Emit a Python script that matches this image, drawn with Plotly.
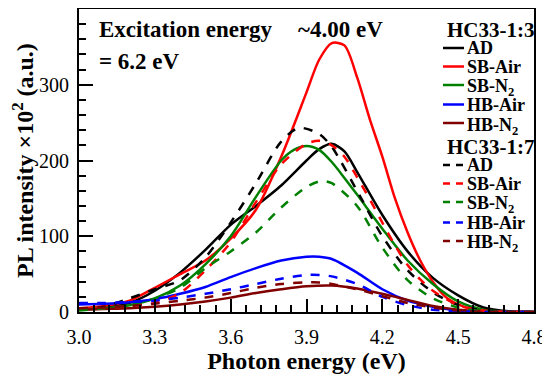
import plotly.graph_objects as go

# Photon energy grids (eV) and PL intensities (x10^2 a.u.)
E_ad13 = [3.0, 3.1, 3.2, 3.3, 3.4, 3.5, 3.6, 3.7, 3.8, 3.9, 3.95, 4.0, 4.05, 4.1, 4.2, 4.3, 4.4, 4.5, 4.6, 4.7, 4.8]
I_ad13 = [3, 6, 12, 28, 52, 82, 115, 140, 167, 200, 215, 222, 212, 185, 128, 80, 45, 22, 6, 1, 0]

E_sbair13 = [3.0, 3.1, 3.2, 3.3, 3.4, 3.5, 3.6, 3.7, 3.8, 3.9, 3.95, 4.0, 4.05, 4.1, 4.15, 4.2, 4.25, 4.3, 4.35, 4.4, 4.45, 4.5, 4.55, 4.6, 4.7, 4.8]
I_sbair13 = [5, 8, 15, 32, 50, 68, 97, 135, 205, 290, 333, 355, 352, 310, 255, 205, 150, 105, 68, 40, 20, 10, 4, 1, 0, 0]

E_sbn13 = [3.0, 3.1, 3.2, 3.3, 3.4, 3.5, 3.6, 3.7, 3.8, 3.85, 3.9, 3.95, 4.0, 4.05, 4.1, 4.2, 4.3, 4.4, 4.5, 4.6, 4.7, 4.8]
I_sbn13 = [3, 5, 9, 18, 35, 63, 100, 152, 200, 214, 219, 214, 198, 177, 155, 110, 68, 37, 14, 3, 0, 0]

E_hbair13 = [3.0, 3.1, 3.2, 3.3, 3.4, 3.5, 3.6, 3.7, 3.8, 3.9, 3.95, 4.0, 4.1, 4.2, 4.3, 4.4, 4.5, 4.6, 4.7, 4.8]
I_hbair13 = [10, 11, 13, 17, 24, 33, 46, 58, 68, 73, 73, 70, 52, 30, 15, 7, 2, 0, 0, 0]

E_hbn13 = [3.0, 3.1, 3.2, 3.3, 3.4, 3.5, 3.6, 3.7, 3.8, 3.9, 4.0, 4.1, 4.2, 4.3, 4.4, 4.5, 4.6, 4.7, 4.8]
I_hbn13 = [3, 4, 5, 7, 10, 14, 19, 25, 30, 34, 35, 31, 24, 16, 8, 3, 1, 0, 0]

E_ad17 = [3.0, 3.1, 3.2, 3.3, 3.4, 3.5, 3.6, 3.7, 3.8, 3.87, 3.95, 4.0, 4.1, 4.2, 4.3, 4.4, 4.5, 4.6, 4.7, 4.8]
I_ad17 = [3, 7, 18, 30, 42, 72, 118, 170, 225, 243, 235, 218, 160, 100, 55, 26, 9, 2, 0, 0]

E_sbair17 = [3.0, 3.1, 3.2, 3.3, 3.4, 3.5, 3.6, 3.7, 3.8, 3.9, 3.95, 4.0, 4.05, 4.1, 4.15, 4.2, 4.25, 4.3, 4.35, 4.4, 4.5, 4.6, 4.7, 4.8]
I_sbair17 = [3, 5, 8, 12, 25, 55, 92, 145, 195, 222, 226, 220, 205, 178, 149, 118, 88, 62, 43, 28, 9, 2, 0, 0]

E_sbn17 = [3.0, 3.1, 3.2, 3.3, 3.4, 3.5, 3.6, 3.7, 3.8, 3.9, 3.96, 4.0, 4.1, 4.2, 4.3, 4.4, 4.5, 4.6, 4.7, 4.8]
I_sbn17 = [2, 5, 9, 18, 32, 58, 80, 105, 138, 165, 173, 170, 140, 85, 42, 18, 6, 1, 0, 0]

E_hbair17 = [3.0, 3.1, 3.2, 3.3, 3.4, 3.5, 3.6, 3.7, 3.8, 3.9, 3.95, 4.0, 4.1, 4.2, 4.3, 4.4, 4.5, 4.6, 4.7, 4.8]
I_hbair17 = [12, 12, 13, 15, 19, 24, 30, 37, 44, 49, 49, 47, 37, 20, 9, 3, 1, 0, 0, 0]

E_hbn17 = [3.0, 3.1, 3.2, 3.3, 3.4, 3.5, 3.6, 3.7, 3.8, 3.9, 3.95, 4.0, 4.1, 4.2, 4.3, 4.4, 4.5, 4.6, 4.7, 4.8]
I_hbn17 = [5, 6, 8, 11, 15, 19, 25, 32, 37, 39, 39, 37, 30, 21, 12, 6, 2, 0, 0, 0]

names = ["AD", "SB-Air", "SB-N<sub>2</sub>", "HB-Air", "HB-N<sub>2</sub>"]
colors = ["#000000", "#ff0000", "#008000", "#0000ff", "#800000"]
group_titles = ["HC33-1:3", "HC33-1:7"]
group13 = [(E_ad13, I_ad13), (E_sbair13, I_sbair13), (E_sbn13, I_sbn13), (E_hbair13, I_hbair13), (E_hbn13, I_hbn13)]
group17 = [(E_ad17, I_ad17), (E_sbair17, I_sbair17), (E_sbn17, I_sbn17), (E_hbair17, I_hbair17), (E_hbn17, I_hbn17)]

FONT = "Liberation Serif, Times New Roman, Times, serif"
W, H = 542, 370
ML, MR, MT, MB = 71, 16, 1, 66
PW, PH = W - ML - MR, H - MT - MB


def px(fx):
    return (fx - ML) / PW


def py(fy):
    return 1 - (fy - MT) / PH


fig = go.Figure()

groups = [(group13, "solid", group_titles[0]), (group17, "dash", group_titles[1])]
for gi, (grp, dash, gt) in enumerate(groups):
    for (x, y), nm, c in zip(grp, names, colors):
        fig.add_trace(go.Scatter(
            x=x, y=y, mode="lines", name=gt + " " + nm, showlegend=False,
            line=dict(color=c, width=2.5, dash=dash, shape="spline", smoothing=0.8)))

# Manual legend (text + key lines) laid out like the reference
header_y = [22, 139]
item_y = [[40, 58.5, 77, 96.5, 115], [157, 175.5, 194, 214.5, 233]]
for gi, (grp, dash, gt) in enumerate(groups):
    fig.add_annotation(x=px(437), y=py(header_y[gi]), xref="paper", yref="paper",
                       xanchor="left", yanchor="middle", showarrow=False,
                       text="<b>" + gt + "</b>", font=dict(family=FONT, size=21, color="black"))
    for k, (nm, c) in enumerate(zip(names, colors)):
        yy = item_y[gi][k]
        fig.add_shape(type="line", xref="paper", yref="paper",
                      x0=px(435), x1=px(456), y0=py(yy), y1=py(yy),
                      line=dict(color=c, width=2.5, dash="7px,6px" if dash == "dash" else "solid"))
        sub = "<sub>" in nm
        fig.add_annotation(x=px(457), y=py(yy + (3 if sub else 0)), xref="paper", yref="paper",
                           xanchor="left", yanchor="middle", showarrow=False,
                           text="<b>" + nm + "</b>", font=dict(family=FONT, size=18, color="black"))

fig.add_annotation(x=0.04, y=0.931, xref="paper", yref="paper", xanchor="left", yanchor="middle",
                   text="<b>Excitation energy</b>", showarrow=False,
                   font=dict(family=FONT, size=23, color="black"))
fig.add_annotation(x=0.04, y=0.828, xref="paper", yref="paper", xanchor="left", yanchor="middle",
                   text="<b>= 6.2 eV</b>", showarrow=False,
                   font=dict(family=FONT, size=23, color="black"))
fig.add_annotation(x=4.036, y=0.931, xref="x", yref="paper", xanchor="center", yanchor="middle",
                   text="<b>~4.00 eV</b>", showarrow=False,
                   font=dict(family=FONT, size=23, color="black"))

fig.update_layout(
    width=W, height=H,
    margin=dict(l=ML, r=MR, t=MT, b=MB, autoexpand=False),
    paper_bgcolor="white", plot_bgcolor="white",
    font=dict(family=FONT, color="black"),
    showlegend=False,
    xaxis=dict(range=[3.0, 4.8], tick0=3.0, dtick=0.3, tickformat=".1f",
               ticks="inside", ticklen=13, tickwidth=2, tickcolor="black",
               showline=True, linewidth=2, linecolor="black", mirror=True,
               showgrid=False, zeroline=False, ticklabelstandoff=6,
               tickfont=dict(family=FONT, size=20, color="black"),
               minor=dict(dtick=0.06, ticks="inside", ticklen=7, tickwidth=2, tickcolor="black", showgrid=False),
               title=dict(text="<b>Photon energy (eV)</b>", font=dict(family=FONT, size=24, color="black"), standoff=5)),
    yaxis=dict(range=[0, 400], dtick=100,
               ticks="inside", ticklen=14, tickwidth=2, tickcolor="black",
               showline=True, linewidth=2, linecolor="black", mirror=True,
               showgrid=False, zeroline=False, ticklabelstandoff=4,
               tickfont=dict(family=FONT, size=20, color="black"),
               minor=dict(dtick=20, ticks="inside", ticklen=7, tickwidth=2, tickcolor="black", showgrid=False),
               title=dict(text="<b>PL intensity ×10<sup>2</sup> (a.u.)</b>", font=dict(family=FONT, size=24, color="black"), standoff=2)),
)

fig.write_html("out.html")
